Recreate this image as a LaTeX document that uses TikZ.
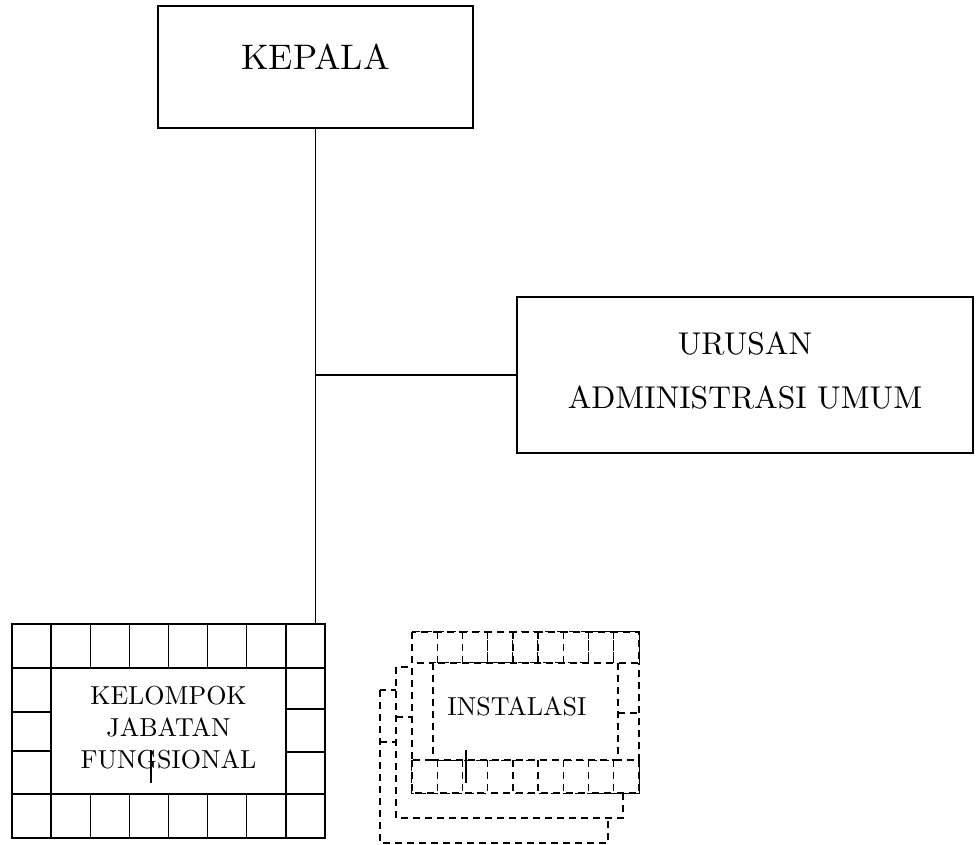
\documentclass[tikz,border=0pt]{standalone}
\usepackage{fontspec}
\setmainfont{lmroman10-regular.otf}
\usetikzlibrary{positioning}

\begin{document}
\begin{tikzpicture}[
        x=1pt, y=-1pt,
        unit/.style={rectangle, draw, line width=1.4pt, align=center, inner sep=0pt},
        cell/.style={draw, line width=1.3pt},
        dashcell/.style={draw, line width=1.4pt, dash pattern=on 7pt off 5pt, fill=white},
        link/.style={line width=1.4pt}
    ]
        \useasboundingbox (0,0) rectangle (977,844);

        % Top unit
        \node[unit, minimum width=315pt, minimum height=122pt, text depth=20pt,
              font=\fontsize{35.5}{40}\selectfont] (kepala) at (315.5,67) {KEPALA};

        % Staff unit on the right
        \node[unit, line width=2.4pt, minimum width=456pt, minimum height=156pt, text depth=10pt,
              font=\fontsize{31.5}{54}\selectfont] (urusan) at (745,375)
            {URUSAN\\ADMINISTRASI UMUM};

        % Functional group, framed by cells
        \node[unit, line width=1.3pt, minimum width=313pt, minimum height=214pt, text depth=8pt,
              font=\fontsize{26}{32}\selectfont] (kjf) at (168.5,731)
            {KELOMPOK\\JABATAN\\FUNGSIONAL};
        \foreach \i in {0,...,7} {
            \draw[cell] (12+39.125*\i,624) rectangle ++(39.125,44);
            \draw[cell] (12+39.125*\i,794) rectangle ++(39.125,44);
        }
        \foreach \a/\b in {668/712, 712/751, 751/794}
            \draw[cell] (12,\a) rectangle (51,\b);
        \foreach \a/\b in {668/709, 709/752, 752/794}
            \draw[cell] (286,\a) rectangle (325,\b);
        \draw[cell] (51,668) rectangle (286,794);
        \draw[cell] (151,750) -- (151,783);

        % Lines from the head
        \draw[link] (kepala.south) -- (kepala.south |- kjf.north);
        \draw[link] (kepala.south |- urusan.west) -- (urusan.west);

        % Installations, stacked dashed frames (back to front)
        \draw[dashcell] (380,690) rectangle (608,843);
        \draw[dashcell] (380,742) -- (396,742);
        \draw[dashcell] (396,667) rectangle (623,818);
        \draw[dashcell] (396,717) -- (412,717);
        \draw[dashcell] (412,632) rectangle (639,793);
        \foreach \i in {0,...,8} {
            \draw[dashcell] (412+25.22*\i,632) rectangle ++(25.22,31);
            \draw[dashcell] (412+25.22*\i,760) rectangle ++(25.22,33);
        }
        \draw[dashcell] (618,713) -- (639,713);
        \draw[dashcell] (433,663) rectangle (618,760);
        \node[inner sep=0pt, text depth=10pt, font=\fontsize{26}{30}\selectfont]
            (instalasi) at (517,711.5) {INSTALASI};
        \draw[cell] (466,750) -- (466,783);
    \end{tikzpicture}
\end{document}
